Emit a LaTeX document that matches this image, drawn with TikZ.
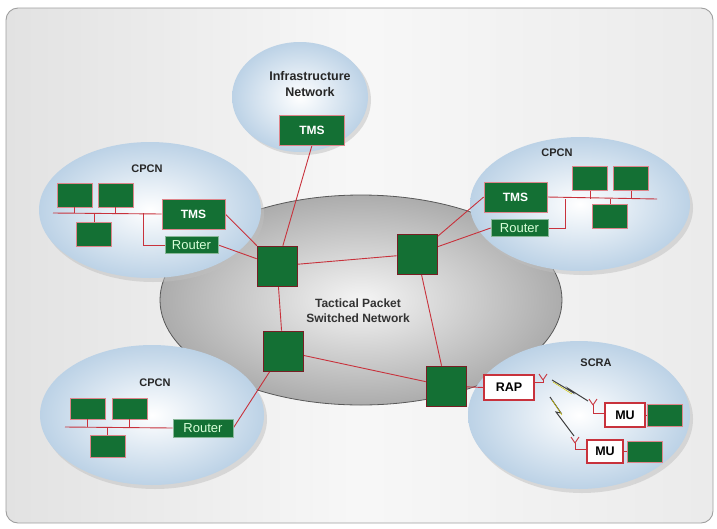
\documentclass[tikz,border=0pt]{standalone}
\usepackage{fontspec}
\setmainfont{Liberation Sans}
\usetikzlibrary{shapes.geometric}
\definecolor{boxgreen}{RGB}{20,112,52}
\definecolor{linkred}{RGB}{200,50,60}
\definecolor{cloudout}{RGB}{188,210,230}
\definecolor{bg}{RGB}{226,226,226}
\tikzset{
  gbox/.style={draw=linkred!60!white, line width=0.6pt, fill=boxgreen, minimum width=#1, minimum height=24pt, inner sep=0pt, text=white, font=\bfseries\fontsize{12}{12}\selectfont},
  gbox/.default=35pt,
  rbox/.style={draw=boxgreen!50!white, line width=0.6pt, fill=boxgreen, minimum width=#1, minimum height=17pt, inner sep=0pt, text=green!15!white, font=\fontsize{13}{13}\selectfont},
  rbox/.default=53pt,
  swbox/.style={draw=linkred!60!black, line width=0.6pt, fill=boxgreen, minimum width=40pt, minimum height=40pt, inner sep=0pt},
  wbox/.style={draw=linkred, line width=1.1pt, fill=white, inner sep=0pt, font=\bfseries\fontsize{12.5}{12.5}\selectfont},
  lbl/.style={font=\bfseries\fontsize{11}{14}\selectfont, align=center, text=black!85},
  link/.style={draw=linkred, line width=0.9pt},
  ant/.style={draw=linkred, line width=0.9pt},
  bolt/.style={draw=black!75, line width=1pt, line join=miter}
}
\begin{document}
\begin{tikzpicture}[x=1pt,y=-1pt]
\useasboundingbox (0,0) rectangle (717,528);
% background panel
\shade[left color=bg, right color=bg!70!white, middle color=gray!6, rounded corners=12pt]
  (6,8) rectangle (713,523);
\draw[gray!75, line width=0.9pt, rounded corners=12pt] (6,8) rectangle (713,523);

% central network
\shade[inner color=gray!8, outer color=gray!65] (361,300) ellipse [x radius=201, y radius=105];
\draw[black!65, line width=0.8pt] (361,300) ellipse [x radius=201, y radius=105];

% shadows of clouds
\fill[gray!50, opacity=0.5] (303,100) ellipse [x radius=68, y radius=55];
\fill[gray!50, opacity=0.5] (153,214) ellipse [x radius=111, y radius=68];
\fill[gray!50, opacity=0.5] (583,208) ellipse [x radius=110, y radius=67];
\fill[gray!50, opacity=0.5] (155,419) ellipse [x radius=112, y radius=70];
\fill[gray!50, opacity=0.5] (582,419) ellipse [x radius=111, y radius=74];

% clouds
\shade[inner color=white, outer color=cloudout] (300,97) ellipse [x radius=68, y radius=55];
\shade[inner color=white, outer color=cloudout] (150,210) ellipse [x radius=111, y radius=68];
\shade[inner color=white, outer color=cloudout] (580,204) ellipse [x radius=110, y radius=67];
\shade[inner color=white, outer color=cloudout] (152,415) ellipse [x radius=112, y radius=70];
\shade[inner color=white, outer color=cloudout] (579,415) ellipse [x radius=111, y radius=74];

% labels
\node[lbl, font=\bfseries\fontsize{12.5}{16}\selectfont] (infl) at (310,84) {Infrastructure\\Network};
\node[lbl] (cpl1) at (147,169) {CPCN};
\node[lbl] (cpl2) at (557,153) {CPCN};
\node[lbl] (cpl3) at (155,383) {CPCN};
\node[lbl] (scl) at (596,363) {SCRA};
\node[font=\bfseries\fontsize{12}{15}\selectfont, align=center, text=black!80] (tpl) at (358,311) {Tactical Packet\\Switched Network};

% switches
\node[swbox] (s1) at (277,266) {};
\node[swbox] (s2) at (417,254) {};
\node[swbox] (s3) at (283,351) {};
\node[swbox] (s4) at (446,386) {};

% infrastructure
\node[gbox=65pt, minimum height=30pt] (tms0) at (312,130) {TMS};

% left CPCN
\node[gbox] (a1) at (74.5,195) {};
\node[gbox] (a2) at (115.5,195) {};
\node[gbox] (a3) at (94,234.5) {};
\node[gbox=63pt, minimum height=30pt] (tms1) at (193.5,214) {TMS};
\node[rbox] (r1) at (191.5,245) {Router};
\coordinate (bus1s) at (53,213);
\coordinate (bus1r) at (143,213);
\coordinate (bus1c) at (143,245);

% right CPCN
\node[gbox=63pt, minimum height=30pt] (tms2) at (515.5,197) {TMS};
\node[rbox=57pt] (r2) at (519.5,228) {Router};
\node[gbox] (b1) at (590,178.5) {};
\node[gbox] (b2) at (631,178.5) {};
\node[gbox] (b3) at (610,216.5) {};
\coordinate (bus2e) at (657,199);
\coordinate (bus2r) at (565,199);
\coordinate (bus2c) at (565,228);

% bottom-left CPCN
\node[gbox, minimum height=21pt] (c1) at (87.5,408.5) {};
\node[gbox, minimum height=21pt] (c2) at (129.5,408.5) {};
\node[gbox, minimum height=22pt] (c3) at (107.5,446) {};
\node[rbox=60pt, minimum height=18pt] (r3) at (203,428) {Router};
\coordinate (bus3s) at (65,427);

% SCRA
\node[wbox, minimum width=50pt, minimum height=25pt] (rap) at (509,387.5) {RAP};
\node[wbox, minimum width=40pt, minimum height=24pt] (mu1) at (625,415) {MU};
\node[gbox, minimum height=22pt] (mg1) at (665,415) {};
\node[wbox, minimum width=36pt, minimum height=23pt] (mu2) at (605,451.5) {MU};
\node[gbox, minimum height=21pt] (mg2) at (645,451.5) {};

% LAN buses and stubs
\draw[link] (bus1s) -- (tms1.west);
\draw[link] (a1.south) -- (a1.south |- bus1s);
\draw[link] (a2.south) -- (a2.south |- bus1s);
\draw[link] (a3.north) -- (a3.north |- bus1s);
\draw[link] (bus1r) -- (bus1c) -- (r1.west);

\draw[link] (tms2.east) -- (bus2e);
\draw[link] (b1.south) -- (b1.south |- bus2e);
\draw[link] (b2.south) -- (b2.south |- bus2e);
\draw[link] (b3.north) -- (b3.north |- bus2e);
\draw[link] (bus2r) -- (bus2c) -- (r2.east);

\draw[link] (bus3s) -- (r3.west);
\draw[link] (c1.south) -- (c1.south |- bus3s);
\draw[link] (c2.south) -- (c2.south |- bus3s);
\draw[link] (c3.north) -- (c3.north |- bus3s);

\draw[link] (mu1.east) -- (mg1.west);
\draw[link] (mu2.east) -- (mg2.west);

% backbone links
\draw[link] (tms0.south) -- (s1);
\draw[link] (tms1.east) -- (s1);
\draw[link] (r1.east) -- (s1);
\draw[link] (s1) -- (s2);
\draw[link] (s1) -- (s3);
\draw[link] (s2) -- (tms2.west);
\draw[link] (s2) -- (r2.west);
\draw[link] (s2) -- (s4);
\draw[link] (s3) -- (s4);
\draw[link] (s3) -- (r3.east);
\draw[link] (s4) -- (rap.west);

% redraw switches and boxes above links
\foreach \x/\y in {277/266, 417/254, 283/351, 446/386}
  \node[swbox] at (\x,\y) {};
\node[gbox=63pt, minimum height=30pt] at (193.5,214) {TMS};
\node[rbox] at (191.5,245) {Router};
\node[gbox=63pt, minimum height=30pt] at (515.5,197) {TMS};
\node[rbox=57pt] at (519.5,228) {Router};
\node[rbox=60pt, minimum height=18pt] at (203,428) {Router};
\node[gbox=65pt, minimum height=30pt] at (312,130) {TMS};
\node[wbox, minimum width=50pt, minimum height=25pt] at (509,387.5) {RAP};

% antennas
\coordinate (antR) at (543,380);
\coordinate (antM1) at (593,405);
\coordinate (antM2) at (575,443);
\draw[ant] ([yshift=5pt]rap.east) -| (antR);
\draw[ant] (antR) -- ++(-4,-6) (antR) -- ++(4,-6);
\draw[ant] ([yshift=2pt]mu1.west) -| (antM1);
\draw[ant] (antM1) -- ++(-4,-6) (antM1) -- ++(4,-6);
\draw[ant] ([yshift=2pt]mu2.west) -| (antM2);
\draw[ant] (antM2) -- ++(-4,-6) (antM2) -- ++(4,-6);

% radio links (lightning)
\draw[bolt] (552,380) -- (572,392) -- (569,389) -- (588,401);
\draw[yellow!60!olive, line width=0.5pt] (553,382) -- (572,394);
\draw[bolt] (550,397) -- (561,413) -- (556,412) -- (574,436);
\draw[yellow!60!olive, line width=0.5pt] (552,400) -- (562,415);
\end{tikzpicture}
\end{document}
